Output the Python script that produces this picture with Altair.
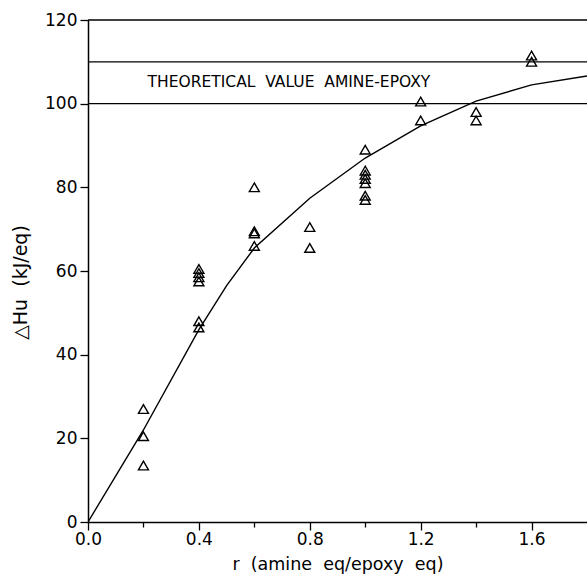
import altair as alt
import pandas as pd

NB = "\u00a0"

# Measured points (r, ΔHu)
pt_r = [0.2, 0.2, 0.2,
        0.4, 0.4, 0.4, 0.4, 0.4, 0.4,
        0.6, 0.6, 0.6, 0.6,
        0.8, 0.8,
        1.0, 1.0, 1.0, 1.0, 1.0, 1.0, 1.0,
        1.2, 1.2,
        1.4, 1.4,
        1.6, 1.6]
pt_h = [27, 20.5, 13.5,
        60.5, 59.5, 58.5, 57.5, 48, 46.5,
        80, 69.5, 69, 66,
        70.5, 65.5,
        89, 84, 83, 82, 81, 78, 77,
        100.5, 96,
        98, 96,
        111.5, 110]

# Fitted curve
curve_r = [0.0, 0.2, 0.4, 0.5, 0.6, 0.8, 1.0, 1.2, 1.4, 1.6, 1.8]
curve_h = [0.0, 22.0, 46.0, 56.5, 65.5, 77.4, 87.0, 94.7, 100.6, 104.5, 106.6]

# Horizontal reference lines (theoretical band + top frame)
ref_h = [100, 110, 120]

label_text = ["THEORETICAL" + NB * 2 + "VALUE" + NB * 2 + "AMINE-EPOXY"]
label_r = [0.215]
label_h = [105.2]

pts = pd.DataFrame({"r": pt_r, "h": pt_h})
curve = pd.DataFrame({"r": curve_r, "h": curve_h})
refs = pd.DataFrame({"h": ref_h})
lab = pd.DataFrame({"r": label_r, "h": label_h, "t": label_text})

FONT = "DejaVu Sans"

xscale = alt.Scale(domain=[0, 1.8], nice=False, zero=False)
yscale = alt.Scale(domain=[0, 120], nice=False)

xaxis = alt.Axis(
    title="r" + NB * 2 + "(amine" + NB * 2 + "eq/epoxy" + NB * 2 + "eq)",
    values=[0.0, 0.2, 0.4, 0.6, 0.8, 1.0, 1.2, 1.4, 1.6],
    labelExpr="round(datum.value*10) % 4 == 0 ? format(datum.value, '.1f') : ''",
    tickSize={"condition": {"test": "round(datum.value*10) % 4 == 0", "value": 8}, "value": 5},
    labelPadding=1,
    labelFlush=False,
    titlePadding=8,
    titleFontSize=17.5,
    grid=False,
)
yaxis = alt.Axis(
    title="△Hu" + NB * 2 + "(kJ/eq)",
    values=[0, 20, 40, 60, 80, 100, 120],
    format="d",
    tickSize=8,
    labelPadding=3,
    labelFlush=False,
    titlePadding=14,
    titleFontSize=19,
    titleY=262,
    grid=False,
)

base_x = alt.X("r:Q", scale=xscale, axis=xaxis)
base_y = alt.Y("h:Q", scale=yscale, axis=yaxis)

points = alt.Chart(pts).mark_point(
    shape="triangle-up", filled=False, color="black", size=100, strokeWidth=1.4, opacity=1
).encode(x=base_x, y=base_y)

line = alt.Chart(curve).mark_line(color="black", strokeWidth=1.4, clip=True).encode(
    x=base_x, y=base_y
)

rules = alt.Chart(refs).mark_rule(color="black", strokeWidth=1.4).encode(
    y=alt.Y("h:Q", scale=yscale, axis=yaxis)
)

text = alt.Chart(lab).mark_text(
    align="left", baseline="middle", font=FONT, fontSize=15.5, color="black"
).encode(x=base_x, y=base_y, text="t:N")

chart = (
    alt.layer(rules, line, points, text)
    .properties(
        width=499,
        height=502,
        padding={"left": 88, "top": 20, "right": 0, "bottom": 53},
        autosize=alt.AutoSizeParams(type="none"),
        background="white",
    )
    .configure_view(stroke=None)
    .configure_axis(
        domainColor="black",
        domainWidth=1.5,
        tickColor="black",
        tickWidth=1.3,
        labelFont=FONT,
        labelFontSize=17,
        labelColor="black",
        titleFont=FONT,
        titleFontWeight="normal",
        titleColor="black",
    )
)

chart.save("out.html", embed_options={"renderer": "svg", "actions": False})
